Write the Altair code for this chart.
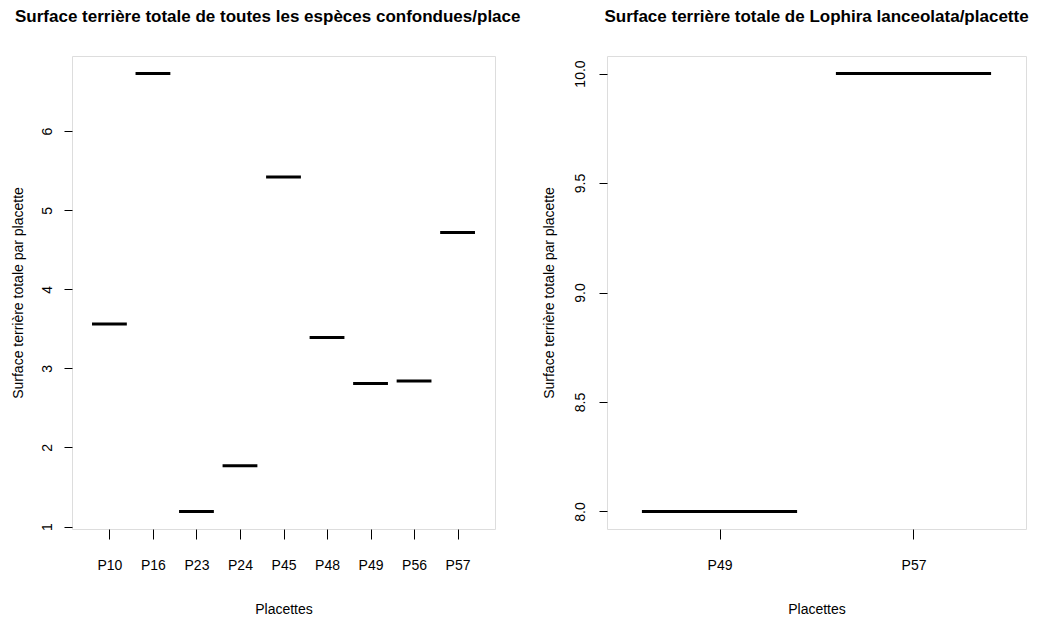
import json
import altair as alt
import pandas as pd

# ---- data ----
placettes_all = ["P10", "P16", "P23", "P24", "P45", "P48", "P49", "P56", "P57"]
surface_all = [3.56, 6.73, 1.19, 1.77, 5.42, 3.39, 2.81, 2.84, 4.72]

placettes_lo = ["P49", "P57"]
surface_lo = [8.0, 10.0]

title_left = "Surface terrière totale de toutes les espèces confondues/place"
title_right = "Surface terrière totale de Lophira lanceolata/placette"
y_title = "Surface terrière totale par placette"
x_title = "Placettes"

FONT = "Liberation Sans"
BOXWEX = 0.8


def make_df(names, vals):
    pos = list(range(1, len(names) + 1))
    return pd.DataFrame({
        "placette": names,
        "pos": pos,
        "value": vals,
        "x0": [p - BOXWEX / 2 for p in pos],
        "x1": [p + BOXWEX / 2 for p in pos],
    })


def r_range(lo, hi):
    d = (hi - lo) * 0.04
    return [lo - d, hi + d]


def panel(names, vals, width, height, yticks, yfmt, title, title_params,
          ytitle_x, ylabel_pad):
    df = make_df(names, vals)
    n = len(names)
    xdom = r_range(0.5, n + 0.5)
    ydom = r_range(min(vals), max(vals))
    label_expr = json.dumps(names) + "[datum.value - 1]"
    chart = alt.Chart(df).mark_rule(color="black", strokeWidth=3, strokeCap="butt").encode(
        x=alt.X("x0:Q",
                scale=alt.Scale(domain=xdom, nice=False, zero=False),
                axis=alt.Axis(values=list(range(1, n + 1)), labelExpr=label_expr,
                              title=x_title, grid=False, domain=False,
                              tickSize=10, tickColor="black", tickWidth=1,
                              labelFont=FONT, labelFontSize=14, labelColor="black",
                              labelPadding=26, labelBaseline="middle",
                              titleFont=FONT, titleFontSize=14, titleFontWeight="normal",
                              titleColor="black", titleX=width / 2, titleY=80,
                              titleBaseline="middle", titleAlign="center")),
        x2="x1:Q",
        y=alt.Y("value:Q",
                scale=alt.Scale(domain=ydom, nice=False, zero=False),
                axis=alt.Axis(values=yticks, format=yfmt, title=y_title, grid=False,
                              domain=False, tickSize=8, tickColor="black", tickWidth=1,
                              labelFont=FONT, labelFontSize=14, labelColor="black",
                              labelAngle=-90, labelAlign="center", labelBaseline="bottom",
                              labelPadding=ylabel_pad,
                              titleFont=FONT, titleFontSize=14, titleFontWeight="normal",
                              titleColor="black", titleAngle=-90, titleX=ytitle_x,
                              titleY=height / 2, titleAlign="center",
                              titleBaseline="middle")),
    ).properties(
        width=width, height=height,
        title=alt.TitleParams(text=title, font=FONT, fontSize=17, fontWeight="bold",
                              color="black", frame="group", baseline="top",
                              **title_params),
    )
    return chart


left = panel(placettes_all, surface_all, 423, 473, [1, 2, 3, 4, 5, 6], "d",
             title_left, dict(anchor="start", dx=-57, offset=30), -54, 10)
right = panel(placettes_lo, surface_lo, 419, 473, [8.0, 8.5, 9.0, 9.5, 10.0], ".1f",
              title_right, dict(anchor="middle", offset=30), -58, 12)

chart = alt.concat(left, right, columns=2, spacing=20, align="none").properties(
    padding={"left": 2, "top": -1, "right": 0, "bottom": 0},
).configure_view(stroke="black", strokeWidth=1).configure(background="white")

chart.save("out.html", embed_options={"renderer": "svg", "actions": False})
